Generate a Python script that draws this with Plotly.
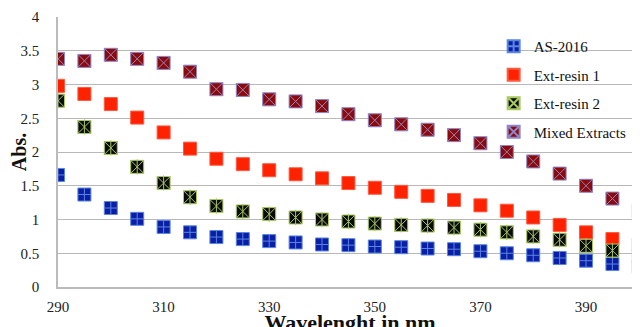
import plotly.graph_objects as go

wavelength = [290, 295, 300, 305, 310, 315, 320, 325, 330, 335, 340, 345,
              350, 355, 360, 365, 370, 375, 380, 385, 390, 395, 400]

as_2016 = [1.66, 1.37, 1.17, 1.01, 0.89, 0.81, 0.74, 0.71, 0.68, 0.66, 0.63, 0.62,
           0.60, 0.59, 0.57, 0.56, 0.53, 0.50, 0.47, 0.43, 0.39, 0.34, 0.30]
ext_resin_1 = [2.98, 2.86, 2.71, 2.51, 2.29, 2.05, 1.90, 1.82, 1.73, 1.67, 1.61, 1.54,
               1.47, 1.41, 1.35, 1.29, 1.21, 1.13, 1.03, 0.92, 0.81, 0.71, 0.63]
ext_resin_2 = [2.76, 2.37, 2.06, 1.78, 1.54, 1.33, 1.20, 1.12, 1.08, 1.03, 1.00, 0.97,
               0.94, 0.92, 0.91, 0.88, 0.85, 0.81, 0.75, 0.70, 0.61, 0.54, 0.46]
mixed_extracts = [3.38, 3.35, 3.44, 3.38, 3.32, 3.19, 2.93, 2.92, 2.78, 2.75, 2.68, 2.56,
                  2.47, 2.41, 2.33, 2.25, 2.13, 2.00, 1.86, 1.68, 1.50, 1.31, 1.13]

series_names = ["AS-2016", "Ext-resin 1", "Ext-resin 2", "Mixed Extracts"]
x_ticks = [290, 310, 330, 350, 370, 390]
y_ticks = [0, 0.5, 1, 1.5, 2, 2.5, 3, 3.5, 4]

FONT = "Liberation Serif"
MS = 13

fig = go.Figure()

fig.add_trace(go.Scatter(
    x=wavelength, y=as_2016, mode="markers", name=series_names[0], legendgroup="a",
    marker=dict(symbol="square-cross", size=MS, color="#0A1FA6",
                line=dict(color="#5A86E0", width=1))))

fig.add_trace(go.Scatter(
    x=wavelength, y=ext_resin_1, mode="markers", name=series_names[1], legendgroup="b",
    marker=dict(symbol="square", size=MS, color="#FF2200",
                line=dict(color="#FF5A40", width=1))))

fig.add_trace(go.Scatter(
    x=wavelength, y=ext_resin_2, mode="markers", name=series_names[2], legendgroup="c",
    marker=dict(symbol="square-x", size=MS, color="#0A0A0A",
                line=dict(color="#A8C860", width=1))))
fig.add_trace(go.Scatter(
    x=wavelength, y=ext_resin_2, mode="markers", name=series_names[2], legendgroup="c",
    showlegend=False, hoverinfo="skip",
    marker=dict(symbol="line-ns", size=MS - 2, color="#A8C860",
                line=dict(color="#A8C860", width=1))))

fig.add_trace(go.Scatter(
    x=wavelength, y=mixed_extracts, mode="markers", name=series_names[3], legendgroup="d",
    marker=dict(symbol="square-x", size=MS, color="#8C0A0A",
                line=dict(color="#8C86C8", width=1))))

fig.update_layout(
    width=640, height=327,
    margin=dict(l=50, r=6, t=9, b=48),
    paper_bgcolor="white", plot_bgcolor="white",
    font=dict(family=FONT, size=15, color="#222222"),
    showlegend=True,
    legend=dict(x=0.746, y=0.952, xanchor="left", yanchor="top",
                bgcolor="rgba(0,0,0,0)", font=dict(family=FONT, size=15, color="#111111"),
                tracegroupgap=6, itemsizing="constant"),
    xaxis=dict(range=[290, 400.6], tickvals=x_ticks, showgrid=False, zeroline=False,
               showline=True, linecolor="#BBBBBB", linewidth=1.5, ticks="",
               ticklabelstandoff=5, automargin=False,
               tickfont=dict(family=FONT, size=15, color="#222222"),
               title=dict(text="<b>Wavelenght in nm</b>", font=dict(family=FONT, size=22, color="#111111"),
                          standoff=0)),
    yaxis=dict(range=[0, 4], tickvals=y_ticks, showgrid=True, gridcolor="#B8B8B8", gridwidth=1,
               zeroline=False, showline=True, linecolor="#BBBBBB", linewidth=1.5, ticks="",
               ticklabelstandoff=14, automargin=False,
               tickfont=dict(family=FONT, size=15, color="#222222"),
               title=dict(text="<b>Abs.</b>", font=dict(family=FONT, size=20, color="#111111"),
                          standoff=0)),
)

fig.write_html("out.html")
